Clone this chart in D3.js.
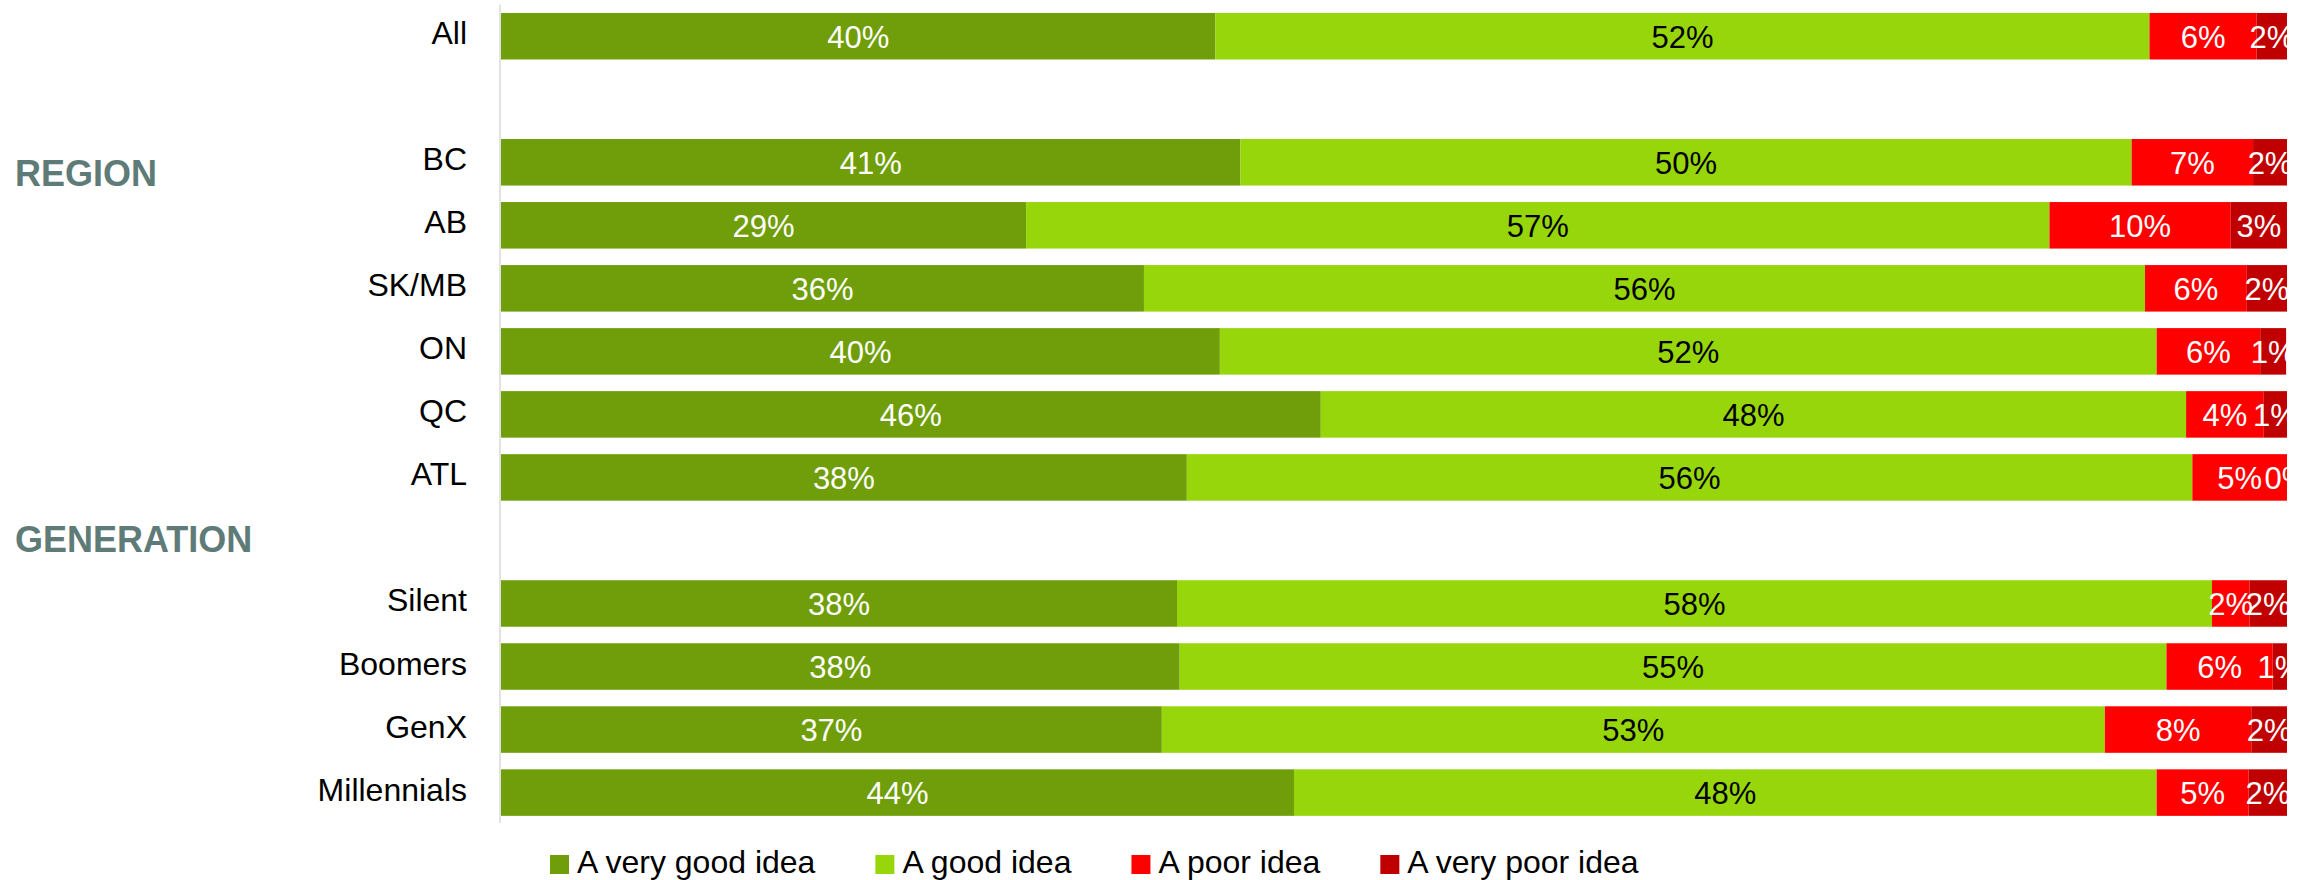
<!DOCTYPE html>
<html>
<head>
<meta charset="utf-8">
<script src="https://cdn.jsdelivr.net/npm/d3@7"></script>
<style>
  html, body { margin: 0; padding: 0; background: #ffffff; }
  svg { display: block; }
  text { font-family: "Liberation Sans", Arial, sans-serif; }
</style>
</head>
<body>
<svg id="chart" width="2310" height="880"></svg>
<script>
// ---- data ----
const categories = ["All", "BC", "AB", "SK/MB", "ON", "QC", "ATL", "Silent", "Boomers", "GenX", "Millennials"];
// row slots including blank spacer rows (section headings)
const rowSlots = ["All", "gap1", "BC", "AB", "SK/MB", "ON", "QC", "ATL", "gap2", "Silent", "Boomers", "GenX", "Millennials"];
const seriesNames = ["A very good idea", "A good idea", "A poor idea", "A very poor idea"];
const veryGood = [40.0, 41.4, 29.4, 36.0, 40.25, 45.9, 38.4, 37.85, 38.0, 37.0, 44.4];
const good     = [52.3, 49.9, 57.3, 56.05, 52.45, 48.45, 56.3, 57.95, 55.25, 52.8, 48.3];
const poor     = [6.0, 6.8, 10.15, 5.7, 5.8, 4.35, 5.3, 2.1, 5.95, 8.2, 5.15];
const veryPoor = [1.7, 1.9, 3.15, 2.25, 1.45, 1.3, 0.0, 2.1, 0.8, 2.0, 2.15];
const sections = [
  { label: "REGION", anchor: "AB", offset: -16 },
  { label: "GENERATION", anchor: "gap2", offset: 35 }
];

const colors = ["#6f9e0a", "#97d60b", "#ff0000", "#c00000"];
const textColors = ["#ffffff", "#000000", "#ffffff", "#ffffff"];

// ---- build table ----
const seriesArrays = [veryGood, good, poor, veryPoor];
const table = categories.map((c, i) => {
  const row = { cat: c };
  seriesNames.forEach((s, k) => { row[s] = seriesArrays[k][i]; });
  return row;
});
const stacked = d3.stack().keys(seriesNames)(table);

const svg = d3.select("#chart");

const x = d3.scaleLinear().domain([0, 100]).range([501, 2287]);
const y = d3.scaleBand().domain(rowSlots).range([4.7, 824.1]).paddingInner(0.262).paddingOuter(0.131);
const bw = y.bandwidth();

// axis line
svg.append("line")
  .attr("x1", 500).attr("x2", 500)
  .attr("y1", y.range()[0]).attr("y2", y.range()[1] - 1)
  .attr("stroke", "#d9d9d9").attr("stroke-width", 1.5);

// clip for labels
svg.append("defs").append("clipPath").attr("id", "plotclip")
  .append("rect").attr("x", x(0)).attr("y", 0).attr("width", x(100) - x(0)).attr("height", 880);

// bars
const layers = svg.append("g").selectAll("g.layer").data(stacked).join("g")
  .attr("class", "layer").attr("fill", (d, i) => colors[i]);
layers.selectAll("rect").data(d => d).join("rect")
  .attr("x", d => x(d[0]))
  .attr("y", d => y(d.data.cat))
  .attr("width", d => Math.max(0, x(d[1]) - x(d[0])))
  .attr("height", bw);

// value labels
const lab = svg.append("g").attr("clip-path", "url(#plotclip)");
stacked.forEach((layer, i) => {
  lab.selectAll("text.s" + i).data(layer).join("text")
    .attr("class", "s" + i)
    .attr("x", d => (x(d[0]) + x(d[1])) / 2)
    .attr("y", d => y(d.data.cat) + bw / 2 + 11.5)
    .attr("text-anchor", "middle")
    .attr("font-size", 31)
    .attr("fill", textColors[i])
    .text(d => Math.round(d[1] - d[0]) + "%");
});

// category labels
svg.append("g").selectAll("text").data(categories).join("text")
  .attr("x", 467)
  .attr("y", d => y(d) + bw / 2 + 8)
  .attr("text-anchor", "end")
  .attr("font-size", 32)
  .attr("fill", "#000000")
  .text(d => d);

// section labels
svg.append("g").selectAll("text").data(sections).join("text")
  .attr("x", 15)
  .attr("y", d => y(d.anchor) + d.offset)
  .attr("font-size", 36)
  .attr("font-weight", "bold")
  .attr("fill", "#5f7b78")
  .text(d => d.label);

// legend
const legend = svg.append("g");
let lx = 550;
seriesNames.forEach((s, i) => {
  legend.append("rect").attr("x", lx).attr("y", 855).attr("width", 19).attr("height", 19).attr("fill", colors[i]);
  const t = legend.append("text").attr("x", lx + 27).attr("y", 873)
    .attr("font-size", 32).attr("fill", "#000000").text(s);
  lx = lx + 27 + t.node().getComputedTextLength() + 60;
});
</script>
</body>
</html>
